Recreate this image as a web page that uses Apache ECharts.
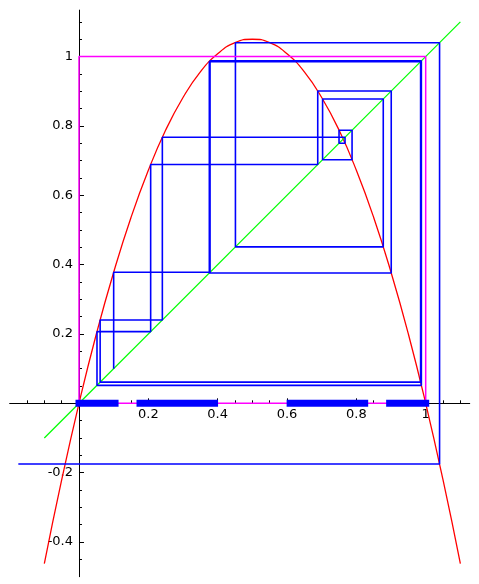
<!DOCTYPE html>
<html>
<head>
<meta charset="utf-8">
<script src="https://cdn.jsdelivr.net/npm/echarts@6/dist/echarts.min.js"></script>
<style>
html, body { margin: 0; padding: 0; background: #fff; }
#chart { width: 479px; height: 584px; }
</style>
</head>
<body>
<div id="chart"></div>
<script>
// parabola f(x) = 4.2 x (1 - x)
var curveX = [-0.1, -0.05, 0, 0.05, 0.1, 0.15, 0.2, 0.25, 0.3, 0.35, 0.4, 0.45, 0.5,
              0.55, 0.6, 0.65, 0.7, 0.75, 0.8, 0.85, 0.9, 0.95, 1, 1.05, 1.1];
var curveY = [-0.462, -0.221, 0, 0.200, 0.378, 0.536, 0.672, 0.788, 0.882, 0.956, 1.008, 1.040, 1.050,
              1.040, 1.008, 0.956, 0.882, 0.788, 0.672, 0.536, 0.378, 0.200, 0, -0.221, -0.462];

// diagonal y = x
var diagX = [-0.1, 1.1];

// the orbit walked by the cobweb, starting at 0.1
var orbit = [0.1, 0.378, 0.9875, 0.0519, 0.2067, 0.6886, 0.9006, 0.3759, 0.9853, 0.0610,
             0.2404, 0.7673, 0.7500, 0.7876, 0.7026, 0.8776, 0.4512, 1.0400, -0.1750];

// unit square
var boxX = [0, 1, 1, 0, 0];
var boxY = [0, 0, 1, 1, 0];

// intervals that stay in [0,1] for two steps
var cantorStart = [0, 0.176, 0.609, 0.896];
var cantorEnd = [0.104, 0.391, 0.824, 1];

// ticks
var xMajor = [0.2, 0.4, 0.6, 0.8, 1];
var xMinor = [-0.15, -0.1, -0.05, 0.05, 0.1, 0.15, 0.25, 0.3, 0.35, 0.45, 0.5, 0.55,
              0.65, 0.7, 0.75, 0.85, 0.9, 0.95, 1.05, 1.1];
var yMajor = [-0.4, -0.2, 0.2, 0.4, 0.6, 0.8, 1];
var yMinor = [-0.45, -0.35, -0.3, -0.25, -0.15, -0.1, -0.05, 0.05, 0.1, 0.15, 0.25, 0.3, 0.35,
              0.45, 0.5, 0.55, 0.65, 0.7, 0.75, 0.85, 0.9, 0.95, 1.05, 1.1];

var curve = curveX.map(function (x, i) { return [x, curveY[i]]; });
var diag = diagX.map(function (x) { return [x, x]; });
var box = boxX.map(function (x, i) { return [x, boxY[i]]; });

var web = [[orbit[0], orbit[0]]];
for (var i = 1; i < orbit.length; i++) {
    web.push([orbit[i - 1], orbit[i]]);
    web.push([orbit[i], orbit[i]]);
}

var font = 'DejaVu Sans';
var X0 = -0.2, X1 = 1.127, Y0 = -0.5, Y1 = 1.134;
var L = 9.66, T = 10.1, W = 460.07, H = 566.6;
var kx = W / (X1 - X0), ky = H / (Y1 - Y0);

// grid 0: marks, axis lines through zero and minor ticks
// grid 1: its bottom edge sits on y = 0, carries x labels and major ticks
// grid 2: its left edge sits on x = 0, carries y labels and major ticks
var grids = [
    { left: L, top: T, width: W, height: H, outerBoundsMode: 'none' },
    { left: L, top: T, width: W, height: Y1 * ky, outerBoundsMode: 'none' },
    { left: L - X0 * kx, top: T, width: X1 * kx, height: H, outerBoundsMode: 'none' }
];

var tickLine = { color: '#000', width: 1 };
var labelStyle = { color: '#000', fontFamily: font, fontSize: 13 };

var xAxes = [
    { type: 'value', gridIndex: 0, min: X0, max: X1, position: 'bottom',
      axisLine: { onZero: true, lineStyle: tickLine },
      axisTick: { inside: true, length: 3, customValues: xMinor, lineStyle: tickLine },
      axisLabel: { show: false }, splitLine: { show: false } },
    { type: 'value', gridIndex: 1, min: X0, max: X1, position: 'bottom',
      axisLine: { show: false, onZero: false },
      axisTick: { inside: true, length: 5, customValues: xMajor, lineStyle: tickLine },
      axisLabel: Object.assign({ customValues: xMajor, margin: 5 }, labelStyle),
      splitLine: { show: false } },
    { type: 'value', gridIndex: 2, min: 0, max: X1, show: false }
];
var yAxes = [
    { type: 'value', gridIndex: 0, min: Y0, max: Y1, position: 'left',
      axisLine: { onZero: true, lineStyle: tickLine },
      axisTick: { inside: true, length: 3, customValues: yMinor, lineStyle: tickLine },
      axisLabel: { show: false }, splitLine: { show: false } },
    { type: 'value', gridIndex: 1, min: 0, max: Y1, show: false },
    { type: 'value', gridIndex: 2, min: Y0, max: Y1, position: 'left',
      axisLine: { show: false, onZero: false },
      axisTick: { inside: true, length: 5, customValues: yMajor, lineStyle: tickLine },
      axisLabel: Object.assign({ customValues: yMajor, margin: 6 }, labelStyle),
      splitLine: { show: false } }
];

var series = [
    { type: 'line', data: curve, smooth: true, symbol: 'none',
      lineStyle: { color: '#ff0000', width: 1.3 } },
    { type: 'line', data: diag, symbol: 'none',
      lineStyle: { color: '#00ff00', width: 1.2 } },
    { type: 'line', data: web, symbol: 'none',
      lineStyle: { color: '#0000ff', width: 1.6 } },
    { type: 'line', data: box, symbol: 'none',
      lineStyle: { color: '#ff00ff', width: 1.5 } }
];
cantorStart.forEach(function (s, i) {
    series.push({ type: 'line', data: [[s, 0], [cantorEnd[i], 0]], symbol: 'none',
                  lineStyle: { color: '#0000ff', width: 7, cap: 'square' } });
});
series.forEach(function (s) { s.xAxisIndex = 0; s.yAxisIndex = 0; s.silent = true; s.z = 3; });

var chart = echarts.init(document.getElementById('chart'));
chart.setOption({
    animation: false,
    backgroundColor: '#fff',
    grid: grids,
    xAxis: xAxes,
    yAxis: yAxes,
    series: series
});
</script>
</body>
</html>
